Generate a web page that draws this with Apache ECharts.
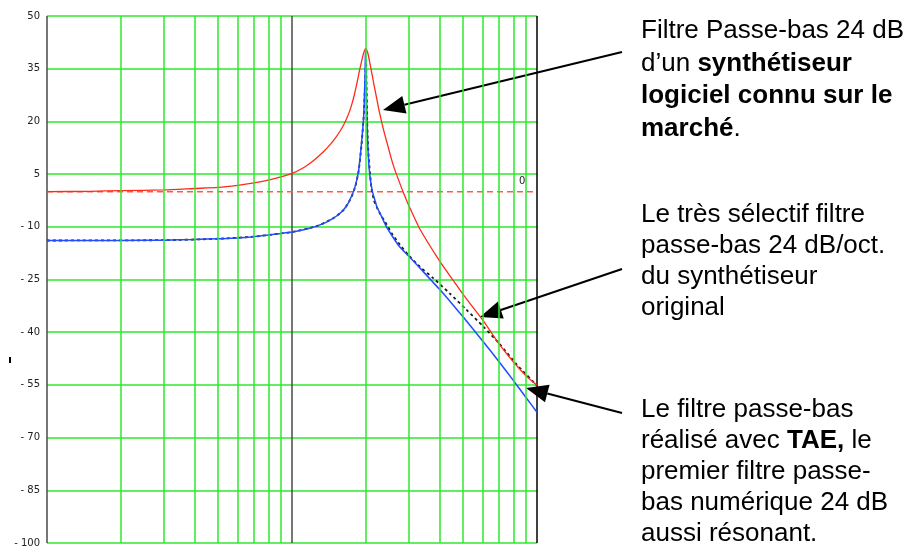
<!DOCTYPE html>
<html lang="fr">
<head>
  <meta charset="utf-8">
  <style>
    html, body { margin: 0; padding: 0; background: #fff; }
    #container { width: 914px; height: 549px; }
  </style>
  <title>Filtres passe-bas 24 dB</title>
</head>
<body>
  <div id="container"></div>

  <script type="text/javascript" src="https://fastly.jsdelivr.net/npm/echarts@6.0.0/dist/echarts.min.js"></script>

  <script type="text/javascript">
    // fréquences des lignes secondaires de la grille (axe log)
    var minorFreqs = [20, 30, 40, 50, 60, 70, 80, 90, 200, 300, 400, 500, 600, 700, 800, 900];

    // synthé logiciel (rouge)
    var redFreq = [10, 15, 20, 30, 40, 50, 60, 70, 80, 90, 100, 110, 120, 126, 135, 143, 150, 157, 163, 168, 172, 176, 180, 184, 188, 192, 196, 200,
                   204, 208, 212, 216, 221, 226, 232, 238, 245, 252, 260, 270, 285, 300, 333, 400, 450, 500, 600, 700, 800, 900, 1000];
    var redDb = [0, 0.1, 0.3, 0.5, 0.9, 1.2, 1.8, 2.5, 3.3, 4.2, 5.2, 6.6, 8.4, 9.6, 11.5, 13.4, 15.2, 17.2, 19.2, 21.2, 23.0, 25.2, 27.8, 30.8, 34.0, 36.9, 39.4, 40.8,
                 39.4, 36.5, 33.5, 30.5, 27.0, 23.5, 20.0, 16.8, 13.6, 10.4, 7.2, 4.0, -0.3, -4.0, -10.7, -19.7, -24.8, -29.3, -36.5, -43.3, -48.4, -52.3, -55.1];

    // TAE (bleu)
    var blueFreq = [10, 20, 30, 40, 50, 60, 70, 80, 90, 100, 115, 126, 137, 147, 155, 162, 168, 173, 177, 181, 184, 187, 189.5, 192, 194, 196, 197.5, 198.8, 199.5,
                    200.5, 201.5, 202.5, 204, 206, 209, 213, 218, 222, 229, 236, 243, 258, 275, 300, 350, 400, 450, 500, 600, 700, 800, 900, 1000];
    var blueDb = [-13.9, -13.9, -13.8, -13.6, -13.4, -13.2, -12.8, -12.3, -11.9, -11.5, -10.6, -9.8, -8.8, -7.6, -6.5, -5.2, -3.8, -2.0, -0.5, 1.5, 3.5, 6.0, 9.5, 13.5, 17.0, 21.0, 27.0, 34.0, 40.5,
                  35.0, 26.0, 19.5, 13.0, 7.5, 3.3, 0, -2.4, -4.3, -6.2, -8.2, -10.0, -12.9, -15.7, -18.4, -23.4, -27.8, -31.9, -35.7, -42.5, -48.4, -53.7, -58.5, -62.8];

    // synthé original (pointillés noirs)
    var origFreq = [10, 30, 50, 70, 90, 100, 126, 147, 162, 173, 181, 187, 192, 196, 198.5, 200.5, 201.5, 202.5, 203.5, 205.5, 208, 211, 216, 222, 231, 240,
                    255, 275, 300, 333, 377, 441, 515, 602, 705, 824, 1000];
    var origDb = [-13.9, -13.8, -13.4, -12.8, -11.9, -11.5, -9.8, -7.6, -5.3, -2.2, 1.3, 5.8, 13.0, 21.0, 30.0, 37.0, 30.0, 22.0, 16.0, 10.0, 5.5, 1.0, -2.5, -4.5, -6.8, -8.6,
                  -11.8, -15.0, -18.2, -21.4, -24.6, -29.0, -33.6, -38.3, -43.4, -49.1, -55.2];

    var zeroLine = [[10, 0], [1000, 0]];

    function pairs(xs, ys) {
      return xs.map(function (x, i) { return [x, ys[i]]; });
    }

    function arrow(x1, y1, x2, y2) {
      var a = Math.atan2(y2 - y1, x2 - x1);
      var len = 22, hw = 9;
      var bx = x2 - len * Math.cos(a), by = y2 - len * Math.sin(a);
      var px = -Math.sin(a) * hw, py = Math.cos(a) * hw;
      return [
        { type: 'line', shape: { x1: x1, y1: y1, x2: bx, y2: by }, style: { stroke: '#000', lineWidth: 2 } },
        { type: 'polygon', shape: { points: [[x2, y2], [bx + px, by + py], [bx - px, by - py]] }, style: { fill: '#000' } }
      ];
    }

    var FONT = 'Liberation Sans, Arial, sans-serif';
    var textStyle = { fill: '#000', fontFamily: FONT, fontSize: 26 };
    var rich = {
      r: { fontFamily: FONT, fontSize: 26, color: '#000' },
      b: { fontFamily: FONT, fontSize: 26, fontWeight: 'bold', color: '#000' }
    };

    var chartDom = document.getElementById('container');
    var myChart = echarts.init(chartDom);

    var curveLine = { type: 'line', showSymbol: false, smooth: 0.2 };

    var option = {
      animation: false,
      grid: { left: 47, top: 16, width: 490, height: 527 },
      xAxis: {
        type: 'log',
        logBase: 10,
        min: 10,
        max: 1000,
        axisLine: { show: false },
        axisTick: { show: false },
        axisLabel: { show: false },
        splitLine: { show: true, lineStyle: { color: ['#4a4a4a', '#4a4a4a', '#000'], width: 1.5 } }
      },
      yAxis: {
        type: 'value',
        min: -100,
        max: 50,
        interval: 15,
        axisLine: { show: false },
        axisTick: { show: false },
        axisLabel: {
          margin: 7,
          fontSize: 10,
          color: '#222',
          fontFamily: 'DejaVu Sans, sans-serif',
          formatter: function (v) { return v < 0 ? '- ' + Math.abs(v) : String(v); }
        },
        splitLine: { show: true, lineStyle: { color: '#2de82d', width: 1.5 } }
      },
      series: [
        {
          name: 'zero',
          type: 'line',
          data: zeroLine,
          showSymbol: false,
          lineStyle: { color: '#ff5a48', width: 1.5, type: [6, 4] },
          markLine: {
            silent: true,
            symbol: 'none',
            animation: false,
            label: { show: false },
            lineStyle: { color: '#2de82d', width: 1.5, type: 'solid' },
            data: minorFreqs.map(function (f) { return { xAxis: f }; })
          },
          endLabel: { show: true, formatter: '0', color: '#222', fontSize: 10, fontFamily: 'DejaVu Sans, sans-serif', offset: [-26, -10] }
        },
        Object.assign({}, curveLine, {
          name: 'original',
          data: pairs(origFreq, origDb),
          lineStyle: { color: '#1a1a1a', width: 1.8, type: [3, 3] }
        }),
        Object.assign({}, curveLine, {
          name: 'TAE',
          data: pairs(blueFreq, blueDb),
          lineStyle: { color: '#1f4dff', width: 1.5 }
        }),
        Object.assign({}, curveLine, {
          name: 'logiciel',
          data: pairs(redFreq, redDb),
          lineStyle: { color: '#ff2a1a', width: 1.3 }
        })
      ],
      graphic: [].concat(
        arrow(622, 52, 383, 110),
        arrow(622, 269, 480, 317),
        arrow(622, 413, 526, 388),
        [
          { type: 'rect', shape: { x: 9, y: 357, width: 2, height: 6 }, style: { fill: '#000' } },
          {
            type: 'text', left: 641, top: 15,
            style: Object.assign({}, textStyle, {
              text: '{r|Filtre Passe-bas 24 dB}\n{r|d’un }{b|synthétiseur}\n{b|logiciel connu sur le}\n{b|marché}{r|.}',
              lineHeight: 32.5, rich: rich
            })
          },
          {
            type: 'text', left: 641, top: 199,
            style: Object.assign({}, textStyle, {
              text: 'Le très sélectif filtre\npasse-bas 24 dB/oct.\ndu synthétiseur\noriginal',
              lineHeight: 31
            })
          },
          {
            type: 'text', left: 641, top: 394,
            style: Object.assign({}, textStyle, {
              text: '{r|Le filtre passe-bas}\n{r|réalisé avec }{b|TAE,}{r| le}\n{r|premier filtre passe-}\n{r|bas numérique 24 dB}\n{r|aussi résonant.}',
              lineHeight: 31, rich: rich
            })
          }
        ]
      )
    };

    myChart.setOption(option);
  </script>
</body>
</html>
